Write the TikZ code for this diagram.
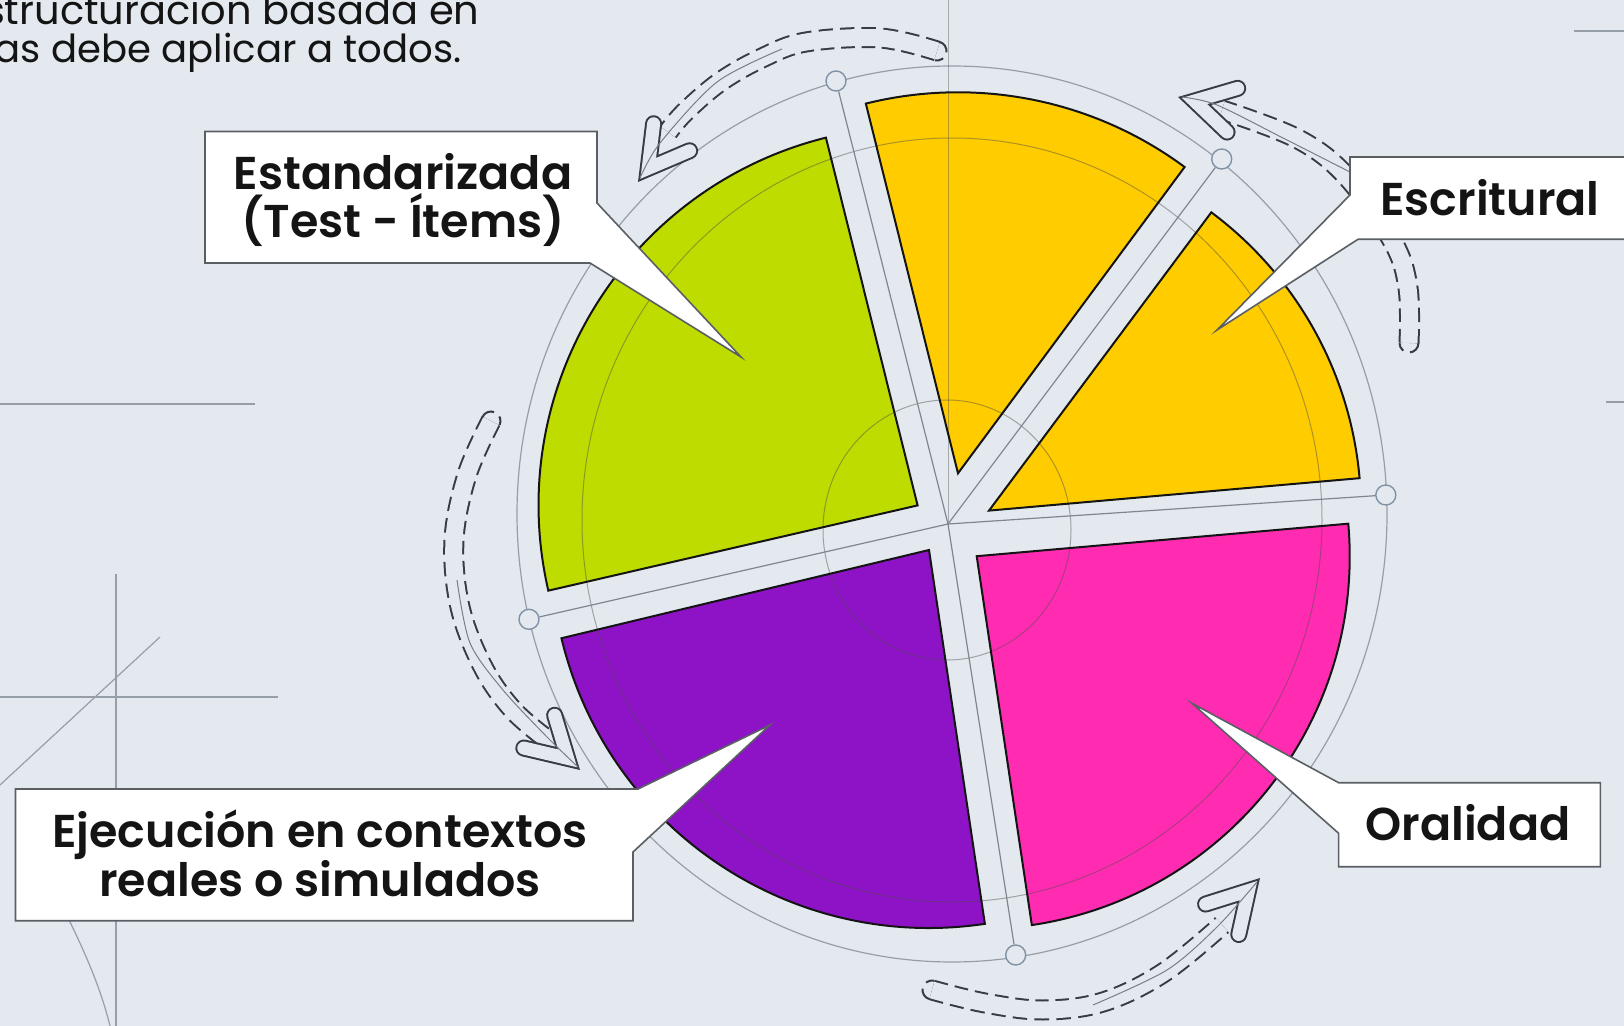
\documentclass[tikz,border=0pt]{standalone}
\usepackage{fontspec}
\setmainfont{Poppins}
\IfFontExistsTF{Poppins SemiBold}{\newfontfamily\labfont{Poppins SemiBold}}{%
  \IfFontExistsTF{Poppins Medium}{\newfontfamily\labfont{Poppins Medium}}{\newfontfamily\labfont{Poppins}[FakeBold=1.2]}}
\usetikzlibrary{calc}
\definecolor{bg}{RGB}{227,233,239}
\definecolor{lime}{RGB}{191,220,0}
\definecolor{gold}{RGB}{255,204,0}
\definecolor{rose}{RGB}{255,44,178}
\definecolor{violet}{RGB}{142,18,198}
\definecolor{ink}{RGB}{20,20,20}
\definecolor{guide}{RGB}{150,158,168}
\definecolor{dashc}{RGB}{55,60,68}
\definecolor{boxline}{RGB}{90,95,100}
\definecolor{mk}{RGB}{130,146,166}
\tikzset{
 guideline/.style={draw=guide, line width=0.6pt},
 divider/.style={draw=guide!85!black, line width=0.6pt},
 slice/.style={draw=ink, line width=1pt, line join=miter},
 marker/.style={circle, draw=mk, fill=bg, minimum size=10pt, inner sep=0pt, line width=0.7pt},
 bandout/.style={draw=dashc, line width=10.5pt, dash pattern=on 7pt off 3.5pt},
 bandin/.style={draw=bg, line width=8.5pt},
 tailcap/.style={draw=dashc, line width=1pt, dash pattern=on 7pt off 3.5pt},
 chevout/.style={draw=dashc, line width=8.5pt, line cap=round, line join=miter},
 chevin/.style={draw=bg, line width=6.5pt, line cap=round, line join=miter},
 spine/.style={draw=guide!80!black, line width=0.5pt},
 callout/.style={fill=white, draw=boxline, line width=0.8pt, line join=miter},
 lab/.style={font=\labfont\fontsize{23}{27}\selectfont, text=ink, inner sep=0pt, anchor=base},
 ttl/.style={font=\fontsize{20}{24}\selectfont, text=ink, inner sep=0pt},
}
\newcommand\chev[3]{%
  \coordinate (#3v) at ($(#1)+({#2+180}:17)$);
  \coordinate (#3a) at ($(#3v)+({#2+210}:45)$);
  \coordinate (#3b) at ($(#3v)+({#2+150}:45)$);
  \draw[chevout] (#3a) -- (#3v) -- (#3b);
  \draw[chevin] (#3a) -- (#3v) -- (#3b);
}
\newcommand\tailcap[2]{%
  \draw[tailcap] ($(#1)+({#2+90}:9.5)$) arc[start angle={#2+90}, end angle={#2+270}, radius=9.5];
}
\newcommand\band[1]{%
  \draw[bandout] plot[smooth, tension=0.6] coordinates {#1};
  \draw[bandin] plot[smooth, tension=0.6] coordinates {#1};
}
\begin{document}
\begin{tikzpicture}[x=0.5pt,y=-0.5pt]
\useasboundingbox (0,0) rectangle (1624,1026);
\clip (0,0) rectangle (1624,1026);
\fill[bg] (0,0) rectangle (1624,1026);
% construction lines
\draw[guideline] (0,404) -- (255,404);
\draw[guideline] (116,574) -- (116,1026);
\draw[guideline] (0,697) -- (278,697);
\draw[guideline] (160,637) -- (0,785);
\draw[guideline] (58,898) .. controls (82,945) and (100,985) .. (110,1026);
\draw[guideline] (1574,31) -- (1624,31);
\draw[guideline] (1606,402) -- (1624,402);
% outer ring
\draw[guideline] (952,514) ellipse [x radius=435, y radius=448];
\coordinate (C) at (948,524);
\node[marker] (m1) at (836,81) {};
\node[marker] (m2) at (1221.7,159) {};
\node[marker] (m3) at (1385.8,495) {};
\node[marker] (m4) at (1015.7,955) {};
\node[marker] (m5) at (529,619.3) {};
% slices
\fill[lime] (917.6,505.4) -- ++(-104:379) arc[start angle=-104, end angle=-193, radius=379] -- cycle;
\fill[gold] (958,473.3) -- ++(-53.5:381) arc[start angle=-53.5, end angle=-104, radius=381] -- cycle;
\fill[gold] (989,510.6) -- ++(-5:372) arc[start angle=-5, end angle=-53.3, radius=372] -- cycle;
\fill[rose] (976.7,556.2) -- ++(81.5:373) arc[start angle=81.5, end angle=-5, radius=373] -- cycle;
\fill[violet] (929,550) -- ++(-193.5:378) arc[start angle=-193.5, end angle=-278.5, radius=378] -- cycle;
% guides over slices
\draw[black!70, opacity=0.45, line width=0.5pt] (952,520) ellipse [x radius=370, y radius=382];
\draw[black!70, opacity=0.45, line width=0.5pt] (947,530) ellipse [x radius=124, y radius=130];
\draw[black!70, opacity=0.4, line width=0.5pt] (948,0) -- (C);
\draw[divider] (C) -- (m1);
\draw[divider] (C) -- (m2);
\draw[divider] (C) -- (m3);
\draw[divider] (C) -- (m4);
\draw[divider] (C) -- (m5);
% slice outlines
\draw[slice] (917.6,505.4) -- ++(-104:379) arc[start angle=-104, end angle=-193, radius=379] -- cycle;
\draw[slice] (958,473.3) -- ++(-53.5:381) arc[start angle=-53.5, end angle=-104, radius=381] -- cycle;
\draw[slice] (989,510.6) -- ++(-5:372) arc[start angle=-5, end angle=-53.3, radius=372] -- cycle;
\draw[slice] (976.7,556.2) -- ++(81.5:373) arc[start angle=81.5, end angle=-5, radius=373] -- cycle;
\draw[slice] (929,550) -- ++(-193.5:378) arc[start angle=-193.5, end angle=-278.5, radius=378] -- cycle;
% cycle arrows
\band{(937,51) (880,38) (806,42) (762,58) (720,82) (685,112) (668,132)}
\tailcap{937,51}{192.85}
\chev{638,182}{126.9}{ca}
\draw[spine] plot[smooth] coordinates {(782,49) (717,82) (660,143) (640,178)};

\band{(1409,343) (1408,288) (1393,242) (1347,177) (1298,139) (1222,110)}
\tailcap{1409,343}{268.96}
\chev{1178,97}{193.65}{cb}
\draw[spine] plot[smooth] coordinates {(1350,172) (1283,138) (1217,105) (1182,97)};

\band{(491,421) (467,475) (454,540) (460,607) (483,667) (513,710) (548,740)}
\tailcap{491,421}{113.96}
\chev{580,770}{43.25}{cc}
\draw[spine] plot[smooth] coordinates {(457,580) (470,643) (503,690) (547,737) (578,767)};

\band{(932,990) (985,1003) (1043,1010) (1103,1002) (1163,973) (1222,925)}
\tailcap{932,990}{13.78}
\chev{1260,878}{312.5}{cd}
\draw[spine] plot[smooth] coordinates {(1093,1005) (1167,970) (1217,927) (1257,882)};
% callouts
\draw[callout] (205,131.5) -- (597,131.5) -- (597,203) -- (741,357) -- (590,263) -- (205,263) -- cycle;
\draw[callout] (1640,157) -- (1350,157) -- (1350,195) -- (1217,330) -- (1358,239.3) -- (1640,239.3) -- cycle;
\draw[callout] (15.5,789) -- (638,789) -- (770,725) -- (633,852) -- (633,920.7) -- (15.5,920.7) -- cycle;
\draw[callout] (1338.6,782.7) -- (1600.3,782.7) -- (1600.3,866.7) -- (1338.6,866.7) -- (1338.6,833.3) -- (1192,703.3) -- cycle;
% labels
\node[lab] (est1) at (403,189.5) {Estandarizada};
\node[lab] (est2) at (403,238) {(Test - Ítems)};
\node[lab] (esc) at (1490,216) {Escritural};
\node[lab] (eje1) at (320,847) {Ejecución en contextos};
\node[lab] (eje2) at (320,896) {reales o simulados};
\node[lab] (ora) at (1468,840) {Oralidad};
% title fragment
\node[ttl, anchor=base east] (t1) at (480,25) {estructuración basada en};
\node[ttl, anchor=base west, font=\fontsize{19.3}{23}\selectfont] (t2) at (-15,63) {las debe aplicar a todos.};
\end{tikzpicture}
\end{document}
